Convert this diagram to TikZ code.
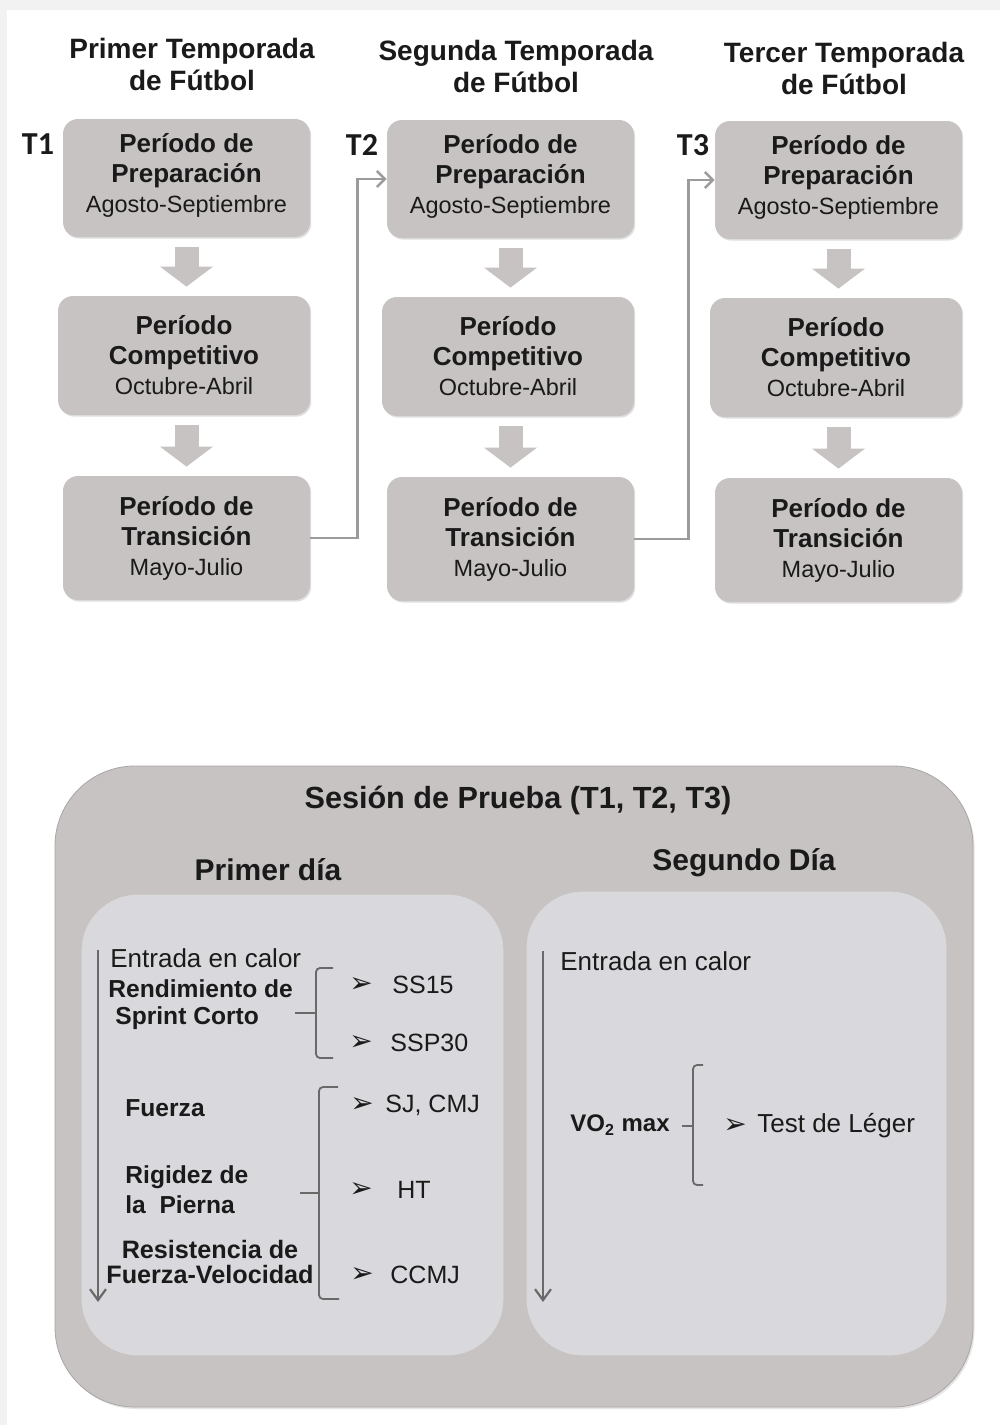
\documentclass[tikz,border=0pt]{standalone}
\usepackage{fontspec}
\setmainfont{Liberation Sans}
\newfontfamily\carlito{Carlito}
\newfontfamily\dejavu{DejaVu Sans}
\usetikzlibrary{arrows.meta,shadows}
\definecolor{boxgray}{RGB}{199,195,194}
\definecolor{panelgray}{RGB}{217,217,221}
\definecolor{linkgray}{RGB}{155,155,155}
\definecolor{inkgray}{RGB}{105,105,105}
\definecolor{ink}{RGB}{26,26,26}
\definecolor{pagegray}{RGB}{242,242,242}
\newcommand{\tipmark}{{\dejavu\fontsize{14}{14}\selectfont ➢}}
\begin{document}
\begin{tikzpicture}[x=0.5pt,y=-0.5pt,
  period/.style={fill=boxgray,rounded corners=7.5pt,inner sep=0pt,align=center,text=ink,
    font=\fontsize{13}{15}\selectfont,drop shadow={opacity=0.25,shadow xshift=0.6pt,shadow yshift=-0.8pt}},
  season/.style={align=center,text=ink,inner sep=0pt,font=\bfseries\fontsize{14}{16}\selectfont},
  tlabel/.style={text=ink,inner sep=0pt,font=\carlito\bfseries\fontsize{16}{16}\selectfont},
  blockarrow/.style={draw=boxgray,line width=12pt,-{Triangle[width=26pt,length=10pt]},shorten <=5pt,shorten >=4.5pt},
  link/.style={draw=linkgray,line width=1.2pt,-{Straight Barb[length=4pt,width=8pt]}},
  flow/.style={draw=inkgray,line width=1.1pt,-{Straight Barb[length=5.5pt,width=8pt]}},
  bracket/.style={draw=inkgray,line width=0.9pt,rounded corners=2pt},
  item/.style={anchor=west,inner sep=0pt,text=ink,font=\fontsize{12.5}{13.5}\selectfont},
  bolditem/.style={item,font=\bfseries\fontsize{12.3}{13.5}\selectfont},
  panel/.style={fill=panelgray,draw=black!15,line width=0.4pt,rounded corners=28pt,inner sep=0pt}]
\useasboundingbox (0,0) rectangle (1000,1425);
\fill[pagegray] (0,0) rectangle (1000,1425);
\fill[white] (7,10) rectangle (1000,1425);
\node[season] (season1) at (192,64) {Primer Temporada\\de Fútbol};
\node[season] (season2) at (516,66) {Segunda Temporada\\de Fútbol};
\node[season] (season3) at (844,68) {Tercer Temporada\\de Fútbol};
\node[tlabel] (t1) at (38,144) {T1};
\node[tlabel] (t2) at (362,145) {T2};
\node[tlabel] (t3) at (693,145) {T3};
\foreach \c/\r/\dy in {1/310/0,2/634/1,3/962/2} {
  \node[period,minimum width=123.5pt,minimum height=59pt] (prep\c) at (\r-123.5,178+\dy)
    {\textbf{Período de}\\\textbf{Preparación}\\{\fontsize{11.75}{15}\selectfont Agosto-Septiembre\rule[-5.5pt]{0pt}{1pt}}};
  \node[period,minimum width=126pt,minimum height=59.5pt] (comp\c) at (\r-126,355.5+\dy)
    {\textbf{Período}\\\textbf{Competitivo}\\{\fontsize{11.75}{15}\selectfont Octubre-Abril}};
  \node[period,minimum width=123.5pt,minimum height=62pt] (trans\c) at (\r-123.5,538+\dy)
    {\textbf{Período de}\\\textbf{Transición}\\{\fontsize{11.75}{15}\selectfont Mayo-Julio}};
  \draw[blockarrow] (prep\c.south) -- (prep\c.south |- comp\c.north);
  \draw[blockarrow] (prep\c.south |- comp\c.south) -- (prep\c.south |- trans\c.north);
}
\draw[link] (trans1.east) -- ++(47,0) |- (prep2.west);
\draw[link] (trans2.east) -- ++(54,0) |- (prep3.west);
\node[fill=boxgray,draw=boxgray!85!black,line width=0.4pt,rounded corners=40pt,inner sep=0pt,
  minimum width=459pt,minimum height=320.5pt,drop shadow={opacity=0.2,shadow xshift=0.8pt,shadow yshift=-1pt}] (session) at (514,1086.5) {};
\node[text=ink,font=\bfseries\fontsize{15.3}{16}\selectfont] (sessiontitle) at (518,800) {Sesión de Prueba (T1, T2, T3)};
\node[text=ink,font=\bfseries\fontsize{15}{16}\selectfont] (day1title) at (268,870) {Primer día};
\node[text=ink,font=\bfseries\fontsize{15}{16}\selectfont] (day2title) at (744,863) {Segundo Día};
\node[panel,minimum width=210.5pt,minimum height=230pt] (day1) at (292.5,1125) {};
\node[panel,minimum width=209.5pt,minimum height=231.5pt] (day2) at (736.5,1123.5) {};
\coordinate (flow1a) at (98,950); \coordinate (flow1b) at (98,1302);
\coordinate (flow2a) at (543,951); \coordinate (flow2b) at (543,1302);
\draw[flow] (flow1a) -- (flow1b); \draw[flow] (flow2a) -- (flow2b);
\node[item,font=\fontsize{13}{15}\selectfont] (warm1) at (110,958) {Entrada en calor};
\node[bolditem,align=left] (sprint) at (108,1004.5) {Rendimiento de\\\hspace*{3.5pt}Sprint Corto};
\node[bolditem] (fuerza) at (125,1108) {Fuerza};
\node[bolditem,align=left,font=\bfseries\fontsize{12.3}{15}\selectfont] (rigidez) at (125,1190) {Rigidez de\\la\ \ Pierna};
\node[bolditem,anchor=center,align=center,font=\bfseries\fontsize{12.6}{12.5}\selectfont] (resist) at (210,1261.5) {Resistencia de\\Fuerza-Velocidad};
\draw[bracket] (333,968) -- (316,968) -- (316,1058) -- (333,1058); \draw[bracket] (295,1013) -- (316,1013);
\draw[bracket] (338,1087) -- (319,1087) -- (319,1299) -- (339,1299); \draw[bracket] (300,1193) -- (319,1193);
\foreach \n/\bx/\tx/\y/\t in {ss/361/392/985/SS15,ssp/361/390/1043/SSP30,sj/362/385/1105/{SJ, CMJ},ht/361/397/1190/HT,ccmj/362/390/1275/CCMJ} {
  \node[inner sep=0pt,text=ink] (\n mark) at (\bx,\y) {\tipmark};
  \node[item] (\n) at (\tx,\y) {\t};
}
\node[item,font=\fontsize{13}{15}\selectfont] (warm2) at (560,961) {Entrada en calor};
\node[bolditem,font=\bfseries\fontsize{12}{13}\selectfont] (vo2) at (570,1125) {VO\textsubscript{2} max};
\draw[bracket] (703,1065) -- (693,1065) -- (693,1185) -- (703,1185); \draw[bracket] (682,1126) -- (693,1126);
\node[inner sep=0pt,text=ink] (legermark) at (735,1126) {\tipmark};
\node[item,font=\fontsize{13}{15}\selectfont] (leger) at (757,1126) {Test de Léger};
\end{tikzpicture}
\end{document}
